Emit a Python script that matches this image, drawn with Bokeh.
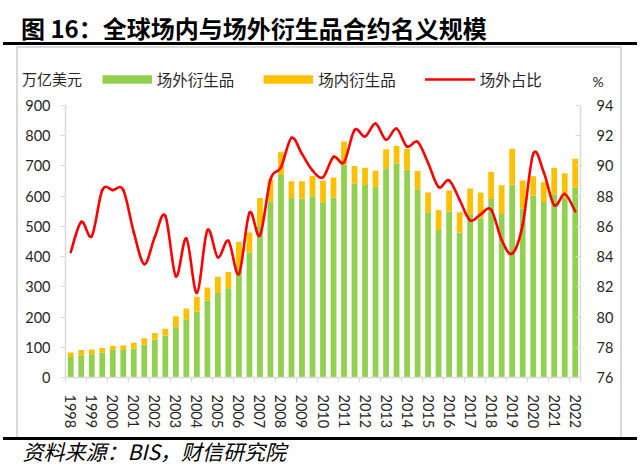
import math
from bokeh.plotting import figure
from bokeh.models import (Range1d, LinearAxis, FixedTicker, Label, Legend, LegendItem,
                          ColumnDataSource)
from bokeh.embed import file_html
from bokeh.resources import INLINE

# ---------------- data ----------------
periods = [f"{y}-{m}" for y in range(1998, 2023) for m in ("06", "12")][:49]
year_labels = ["1998", "1999", "2000", "2001", "2002", "2003", "2004", "2005",
               "2006", "2007", "2008", "2009", "2010", "2011", "2012", "2013",
               "2014", "2015", "2016", "2017", "2018", "2019", "2020", "2021", "2022"]

# OTC derivatives notional (trillion USD)
otc = [68, 74, 77, 83, 91, 91, 96, 108, 125, 138,
       166, 193, 218, 254, 280, 295, 366, 414, 502, 583,
       670, 594, 592, 600, 580, 596, 704, 642, 637, 631,
       692, 708, 687, 623, 547, 488, 549, 479, 540, 527,
       591, 541, 638, 558, 602, 581, 606, 595, 628]
# Exchange-traded derivatives notional (trillion USD)
exchange = [15, 17, 16, 15, 13, 15, 19, 22, 22, 23,
            37, 35, 49, 44, 53, 54, 82, 66, 92, 72,
            75, 55, 57, 67, 71, 66, 77, 58, 57, 53,
            63, 58, 69, 60, 65, 66, 70, 68, 85, 85,
            89, 95, 119, 94, 64, 65, 88, 81, 96]
# OTC share (%)
otc_share = [84.3, 86.3, 85.35, 88.4, 88.4, 88.4, 85.6, 83.5, 85.3, 86.7,
             82.7, 85.2, 81.6, 85.75, 83.95, 85.05, 82.85, 86.9, 85.4, 89.1,
             89.9, 91.86, 90.8, 89.7, 89.25, 90.6, 90.24, 92.37, 91.95, 92.8,
             91.73, 92.47, 91.28, 91.6, 90.2, 88.6, 89.05, 87.75, 86.4, 86.8,
             87.1, 85.1, 84.2, 86.1, 90.8, 89.6, 87.4, 88.15, 87.0]

GREEN = "#92D050"
ORANGE = "#FFC000"
RED = "#FF0000"
AXIS_GRAY = "#D9D9D9"
TEXT = "#262626"
CJK = "Noto Sans CJK SC"
NUM = "Lato"

# ---------------- layout (pixels) ----------------
W, H = 640, 466
FRAME_L, FRAME_R, FRAME_T, FRAME_B = 65, 580, 66, 377
PLOT_T = 105                         # where the axes end (900 / 94)
frame_h = FRAME_B - FRAME_T
plot_h = FRAME_B - PLOT_T
stretch = frame_h / plot_h

xs = list(range(len(periods)))
src = ColumnDataSource(dict(x=xs, period=periods, otc=otc, exchange=exchange))

bg = ", ".join([
    "linear-gradient(#000,#000) 3px 42px / 634px 3px no-repeat",
    "linear-gradient(#000,#000) 3px 437px / 634px 3px no-repeat",
    "linear-gradient(#D9D9D9,#D9D9D9) 16px 46px / 2px 391px no-repeat",
    "linear-gradient(#D9D9D9,#D9D9D9) 620px 46px / 2px 391px no-repeat",
    "linear-gradient(#D9D9D9,#D9D9D9) 16px 46px / 606px 2px no-repeat",
    "#ffffff",
])

p = figure(width=W, height=H, x_range=Range1d(-0.5, len(xs) - 0.5),
           y_range=Range1d(0, 900 * stretch), output_backend="svg",
           toolbar_location=None, title=None,
           min_border_left=FRAME_L, min_border_right=W - FRAME_R,
           min_border_top=FRAME_T, min_border_bottom=H - FRAME_B,
           styles={"background": bg})
p.extra_y_ranges = {"pct": Range1d(76, 76 + 18 * stretch)}
p.outline_line_color = None
p.xgrid.visible = False
p.ygrid.visible = False
p.background_fill_alpha = 0
p.border_fill_alpha = 0

rs = p.vbar_stack(["otc", "exchange"], x="x", width=0.55, color=[GREEN, ORANGE],
                  line_color=None, source=src)

# smooth (Excel-like) curve through the share points, via Bezier segments
n = len(otc_share)
x0, y0, x1, y1, cx0, cy0, cx1, cy1 = ([] for _ in range(8))
for i in range(n - 1):
    ip = max(i - 1, 0)
    inn = min(i + 2, n - 1)
    x0.append(xs[i]); y0.append(otc_share[i])
    x1.append(xs[i + 1]); y1.append(otc_share[i + 1])
    cx0.append(xs[i] + (xs[i + 1] - xs[ip]) / 6)
    cy0.append(otc_share[i] + (otc_share[i + 1] - otc_share[ip]) / 6)
    cx1.append(xs[i + 1] - (xs[inn] - xs[i]) / 6)
    cy1.append(otc_share[i + 1] - (otc_share[inn] - otc_share[i]) / 6)
line_r = p.bezier(x0=x0, y0=y0, x1=x1, y1=y1, cx0=cx0, cy0=cy0, cx1=cx1, cy1=cy1,
                  line_color=RED, line_width=2.6, line_cap="round",
                  y_range_name="pct")

# legend swatches (thick strokes in the bar colours; they draw no marks)
nan = float("nan")
sw_green = p.line(x=[nan], y=[nan], line_color=GREEN, line_width=8.7, line_cap="butt")
sw_orange = p.line(x=[nan], y=[nan], line_color=ORANGE, line_width=8.7, line_cap="butt")

# ---------------- axes ----------------
yl = p.yaxis[0]
yl.ticker = FixedTicker(ticks=list(range(0, 901, 100)))
yl.bounds = (0, 900)
yl.axis_line_color = AXIS_GRAY
yl.axis_line_width = 1.5
yl.major_tick_line_color = AXIS_GRAY
yl.major_tick_out = 5
yl.major_tick_in = 0
yl.minor_tick_line_color = None
yl.major_label_text_font = NUM
yl.major_label_text_font_size = "14.5px"
yl.major_label_text_color = TEXT
yl.major_label_standoff = 10

yr = LinearAxis(y_range_name="pct", ticker=FixedTicker(ticks=list(range(76, 95, 2))),
                bounds=(76, 94))
yr.axis_line_color = AXIS_GRAY
yr.axis_line_width = 1.5
yr.major_tick_line_color = AXIS_GRAY
yr.major_tick_in = 5
yr.major_tick_out = 0
yr.minor_tick_line_color = None
yr.major_label_text_font = NUM
yr.major_label_text_font_size = "14.5px"
yr.major_label_text_color = TEXT
yr.major_label_standoff = 16
p.add_layout(yr, "right")

xa = p.xaxis[0]
label_ticks = list(range(0, len(xs), 2))
xa.ticker = FixedTicker(ticks=label_ticks,
                        minor_ticks=[t - 0.5 for t in range(0, len(xs), 2)] + [len(xs) - 0.5])
xa.major_label_overrides = {t: year_labels[k] for k, t in enumerate(label_ticks)}
xa.major_label_orientation = -math.pi / 2
xa.axis_line_color = AXIS_GRAY
xa.axis_line_width = 1.5
xa.major_tick_line_color = None
xa.major_tick_out = 5
xa.major_tick_in = 0
xa.minor_tick_line_color = AXIS_GRAY
xa.minor_tick_out = 5
xa.minor_tick_in = 0
xa.major_label_text_font = NUM
xa.major_label_text_font_size = "14.5px"
xa.major_label_text_color = TEXT
xa.major_label_standoff = 12

# ---------------- legend (inside the frame, above the plotting area) ----------------
legend = Legend(items=[LegendItem(label="场外衍生品", renderers=[sw_green]),
                       LegendItem(label="场内衍生品", renderers=[sw_orange]),
                       LegendItem(label="场外占比", renderers=[line_r])],
                location=(101.7 - FRAME_L, FRAME_B - 89.5),
                orientation="horizontal", glyph_width=50, glyph_height=22,
                label_standoff=5, spacing=29, padding=0, margin=0,
                border_line_color=None, background_fill_alpha=0,
                label_text_font=CJK, label_text_font_size="15.5px",
                label_text_color=TEXT)
p.add_layout(legend)

# ---------------- texts outside the frame (canvas pixel positions) ----------------
def add_label(side, text, X, Y, size, font=CJK, style="normal", align="left",
              color=TEXT):
    p.add_layout(Label(x=X, y=Y, x_units="canvas", y_units="canvas",
                       text=text, text_font=font, text_font_size=size,
                       text_font_style=style, text_color=color,
                       text_align=align, text_baseline="middle"), side)

add_label("above", "图 16：全球场内与场外衍生品合约名义规模", 20.5, 26.7, "24px",
          style="bold", color="black")
add_label("above", "万亿美元", 21.5, 78.3, "15px")
add_label("right", "%", 597.5, 80.7, "14px", font=NUM, align="center")
add_label("below", "资料来源：BIS，财信研究院", 22, 450.5, "21px", style="italic",
          color="black")

open("out.html", "w").write(file_html(p, INLINE))
